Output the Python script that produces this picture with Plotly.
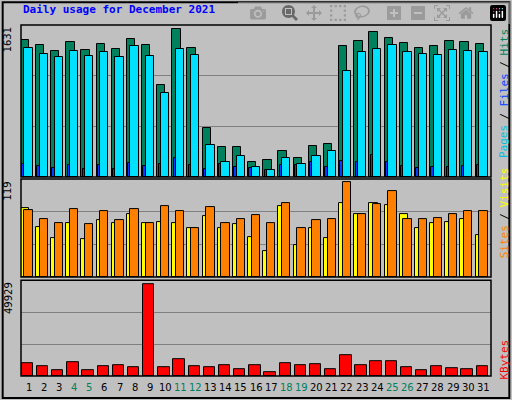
import plotly.graph_objects as go

days = list(range(1, 32))
hits = [1472,1418,1354,1451,1364,1429,1375,1483,1418,986,1591,1386,522,317,317,166,187,284,209,328,349,1408,1462,1559,1494,1440,1386,1408,1462,1451,1429]
files = [1386,1321,1289,1354,1300,1343,1289,1408,1300,900,1375,1310,338,166,230,112,79,209,144,220,274,1138,1343,1375,1418,1343,1321,1310,1364,1354,1343]
pages = [144,122,101,133,90,133,90,155,122,144,209,133,90,144,112,101,79,133,133,166,112,176,166,241,166,122,101,112,112,122,133]
visits = [81,71,66,82,64,80,69,82,65,86,80,59,85,65,71,75,65,90,60,69,71,115,76,89,104,71,71,72,76,80,80]
sites = [84,61,47,65,46,69,65,76,65,67,66,59,74,59,64,49,31,86,39,60,47,90,77,90,87,77,59,65,67,70,51]
kbytes = [6460,4889,2793,6984,2793,4889,5413,4365,47840,4365,8555,4889,4365,5413,3317,5413,1746,6460,5413,5936,3317,10650,5413,7508,7508,4365,2793,4889,3841,3317,4889]
weekends = [4,5,11,12,18,19,25,26]
max_hits, max_visits, max_kb = 1631, 119, 49929

line = dict(color="black", width=1)
fig = go.Figure()
def bar(y, color, off, w, ax):
    fig.add_trace(go.Bar(x=days, y=y, marker=dict(color=color, line=line),
                         offset=off, width=w, xaxis="x", yaxis=ax))
bar(hits, "#00805C", -0.52, 0.55, "y")
bar(files, "#00E0FF", -0.28, 0.55, "y")
bar(pages, "#0040FF", -0.43, 0.15, "y")
bar(sites, "#FFFF00", -0.52, 0.55, "y2")
bar(visits, "#FF8000", -0.28, 0.55, "y2")
bar(kbytes, "#FF0000", -0.45, 0.75, "y3")

grid = dict(showgrid=True, gridcolor="#808080", gridwidth=1, showticklabels=False,
            zeroline=False, showline=False, ticks="")
fig.update_layout(
    width=512, height=400, margin=dict(l=21, r=21, t=25, b=24),
    paper_bgcolor="#C0C0C0", plot_bgcolor="#C0C0C0", showlegend=False,
    barmode="overlay", bargap=0,
    xaxis=dict(range=[0.5, 31.5], showticklabels=False, showgrid=False, zeroline=False, ticks=""),
    yaxis=dict(domain=[0.567, 1.0], range=[0, max_hits], tickvals=[max_hits/3, 2*max_hits/3], **grid),
    yaxis2=dict(domain=[0.282, 0.561], range=[0, max_visits], tickvals=[max_visits/3, 2*max_visits/3], **grid),
    yaxis3=dict(domain=[0, 0.273], range=[0, max_kb], tickvals=[max_kb/3, 2*max_kb/3], **grid),
)
shapes = [
    dict(type="rect", xref="paper", yref="paper", x0=-0.039, x1=1.039, y0=-0.063, y1=1.065,
         line=dict(color="black", width=2)),
]
for d0, d1 in [(0.567, 1.0), (0.282, 0.561), (0, 0.273)]:
    shapes.append(dict(type="rect", xref="paper", yref="paper", x0=0, x1=1, y0=d0, y1=d1,
                       line=dict(color="black", width=1.5)))
fig.update_layout(shapes=shapes)

mono = "DejaVu Sans Mono"
ann = [dict(text="<b>Daily usage for December 2021</b>", x=0, y=1.045, xref="paper", yref="paper",
            xanchor="left", yanchor="middle", showarrow=False, font=dict(family=mono, size=11, color="#0000FF"))]
for d in days:
    ann.append(dict(text=str(d), x=d, y=-0.012, xref="x", yref="paper", yanchor="top", showarrow=False,
                    font=dict(family="DejaVu Sans", size=10, color="#00805C" if d in weekends else "black")))
for txt, yy in [(str(max_hits), 1.0), (str(max_visits), 0.561), (str(max_kb), 0.273)]:
    ann.append(dict(text=txt, x=-0.012, y=yy, xref="paper", yref="paper", xanchor="right", yanchor="top",
                    textangle=-90, showarrow=False, font=dict(family="DejaVu Sans", size=10, color="black")))
def rlab(parts, ytop):
    y = ytop
    for txt, col in parts:
        ann.append(dict(text=txt, x=1.01, y=y, xref="paper", yref="paper", xanchor="left", yanchor="top",
                        textangle=-90, showarrow=False, font=dict(family=mono, size=11, color=col)))
        y -= (len(txt) * 6.6 + 6) / 351
rlab([("Hits", "#00805C"), ("/", "black"), ("Files", "#0040FF"), ("/", "black"), ("Pages", "#00C0E0")], 0.995)
rlab([("Visits", "#FFFF00"), ("/", "black"), ("Sites", "#FF8000")], 0.6)
rlab([("KBytes", "#FF0000")], 0.11)
fig.update_layout(annotations=ann)
fig.write_html("out.html", post_script="document.body.style.margin='0';")
